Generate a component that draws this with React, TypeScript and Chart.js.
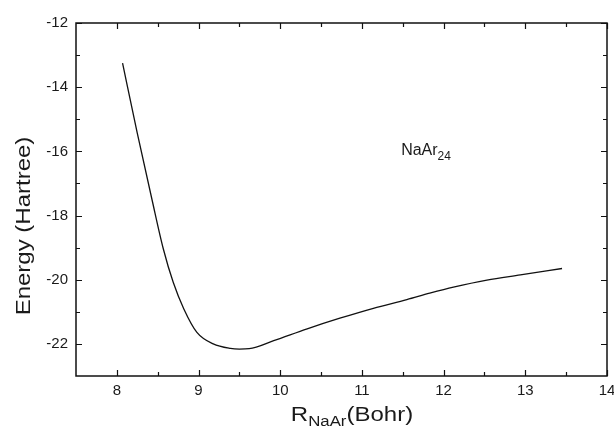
import { useEffect, useRef } from "react";
import { Chart, registerables } from "chart.js";
Chart.register(...registerables);

const rBohr = [8.07, 8.25, 8.43, 8.57, 8.69, 8.82, 8.98, 9.18, 9.39, 9.5, 9.62, 9.92, 10.33, 10.73, 11.14, 11.55, 11.83, 12.12, 12.53, 12.94, 13.45];
const energyHartree = [-13.25, -15.43, -17.5, -19.05, -20.08, -20.91, -21.64, -22.0, -22.14, -22.16, -22.15, -21.9, -21.53, -21.2, -20.89, -20.62, -20.42, -20.23, -20.01, -19.85, -19.65];
const xTicks = [8, 9, 10, 11, 12, 13, 14];
const xMinorTicks = [8.5, 9.5, 10.5, 11.5, 12.5, 13.5];
const yTicks = [-12, -14, -16, -18, -20, -22];
const yMinorTicks = [-13, -15, -17, -19, -21];
const xMin = 7.5, xMax = 14, yMin = -23, yMax = -12;
const annoX = 11.48, annoY = -16.1;

const FONT = "'Liberation Sans', Arial, Helvetica, sans-serif";
const STRETCH = 1.2;

const framePlugin = {
  id: "frame",
  afterDraw(chart: any) {
    const { ctx, chartArea } = chart;
    const { left, right, top, bottom } = chartArea;
    const xs = chart.scales.x;
    const ys = chart.scales.y;
    ctx.save();
    ctx.strokeStyle = "#111";
    ctx.lineWidth = 1.5;
    ctx.strokeRect(left, top, right - left, bottom - top);
    ctx.lineWidth = 1.2;
    const major = 6, minor = 4;
    ctx.beginPath();
    xTicks.forEach((v) => {
      const p = Math.round(xs.getPixelForValue(v)) + 0.5;
      ctx.moveTo(p, bottom); ctx.lineTo(p, bottom - major);
      ctx.moveTo(p, top); ctx.lineTo(p, top + major);
    });
    xMinorTicks.forEach((v) => {
      const p = Math.round(xs.getPixelForValue(v)) + 0.5;
      ctx.moveTo(p, bottom); ctx.lineTo(p, bottom - minor);
      ctx.moveTo(p, top); ctx.lineTo(p, top + minor);
    });
    yTicks.forEach((v) => {
      const p = Math.round(ys.getPixelForValue(v)) + 0.5;
      ctx.moveTo(left, p); ctx.lineTo(left + major, p);
      ctx.moveTo(right, p); ctx.lineTo(right - major, p);
    });
    yMinorTicks.forEach((v) => {
      const p = Math.round(ys.getPixelForValue(v)) + 0.5;
      ctx.moveTo(left, p); ctx.lineTo(left + minor, p);
      ctx.moveTo(right, p); ctx.lineTo(right - minor, p);
    });
    ctx.stroke();

    ctx.fillStyle = "#1a1a1a";
    ctx.textBaseline = "alphabetic";
    // annotation NaAr24
    const ax = xs.getPixelForValue(annoX);
    const ay = ys.getPixelForValue(annoY);
    ctx.font = `16px ${FONT}`;
    ctx.textAlign = "left";
    ctx.fillText("NaAr", ax, ay);
    const w1 = ctx.measureText("NaAr").width;
    ctx.font = `12px ${FONT}`;
    ctx.fillText("24", ax + w1, ay + 5);

    // x title: R_NaAr(Bohr)
    const big = `20px ${FONT}`, small = `14px ${FONT}`;
    ctx.font = big;
    const wR = ctx.measureText("R").width;
    const wB = ctx.measureText("(Bohr)").width;
    ctx.font = small;
    const wS = ctx.measureText("NaAr").width;
    const total = (wR + wS + wB) * STRETCH;
    ctx.save();
    ctx.translate(352 - total / 2, 421);
    ctx.scale(STRETCH, 1);
    let tx = 0;
    ctx.font = big;
    ctx.fillText("R", tx, 0);
    tx += wR;
    ctx.font = small;
    ctx.fillText("NaAr", tx, 5);
    tx += wS;
    ctx.font = big;
    ctx.fillText("(Bohr)", tx, 0);
    ctx.restore();

    // y title
    ctx.save();
    ctx.translate(30, 226);
    ctx.rotate(-Math.PI / 2);
    ctx.scale(STRETCH, 1);
    ctx.font = big;
    ctx.textAlign = "center";
    ctx.fillText("Energy (Hartree)", 0, 0);
    ctx.restore();
    ctx.restore();
  },
};

export default function App() {
  const ref = useRef<HTMLCanvasElement>(null);
  useEffect(() => {
    if (!ref.current) return;
    const chart = new Chart(ref.current, {
      type: "line",
      data: {
        datasets: [
          {
            data: rBohr.map((x, i) => ({ x, y: energyHartree[i] })),
            borderColor: "#111",
            borderWidth: 1.3,
            pointRadius: 0,
            cubicInterpolationMode: "monotone",
            fill: false,
          },
        ],
      },
      options: {
        responsive: false,
        animation: false,
        layout: { padding: { left: 0, right: 7, top: 23, bottom: 0 } },
        plugins: { legend: { display: false }, tooltip: { enabled: false } },
        scales: {
          x: {
            type: "linear",
            min: xMin,
            max: xMax,
            grid: { display: false, drawTicks: false },
            border: { display: false },
            afterBuildTicks: (s: any) => { s.ticks = xTicks.map((v) => ({ value: v })); },
            afterFit: (s: any) => { s.height = 54; s.paddingLeft = 0; s.paddingRight = 0; },
            ticks: { color: "#1a1a1a", font: { family: FONT, size: 15 }, padding: 6, maxRotation: 0, autoSkip: false },
          },
          y: {
            type: "linear",
            min: yMin,
            max: yMax,
            grid: { display: false, drawTicks: false },
            border: { display: false },
            afterBuildTicks: (s: any) => { s.ticks = yTicks.map((v) => ({ value: v })); },
            afterFit: (s: any) => { s.width = 76; s.paddingTop = 0; s.paddingBottom = 0; },
            ticks: { color: "#1a1a1a", font: { family: FONT, size: 15 }, padding: 8, autoSkip: false },
          },
        },
      },
      plugins: [framePlugin],
    });
    return () => chart.destroy();
  }, []);
  return (
    <div style={{ position: "absolute", left: 0, top: 0, width: 614, height: 430, background: "#fff" }}>
      <canvas ref={ref} width={614} height={430} />
    </div>
  );
}
